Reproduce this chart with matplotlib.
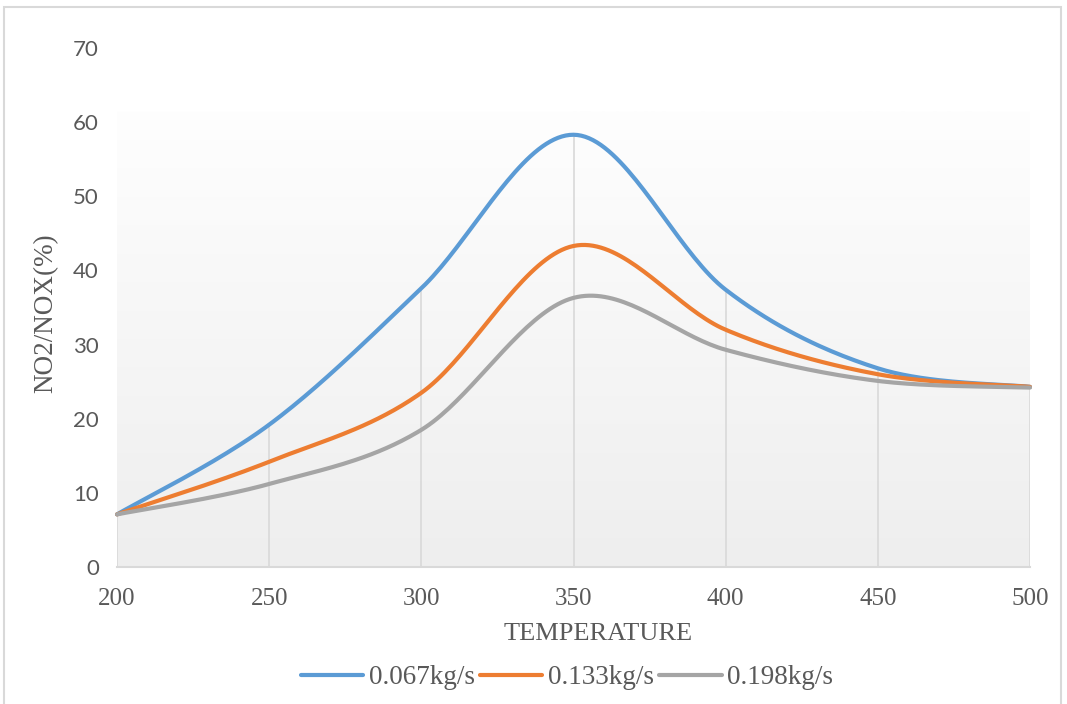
import numpy as np
import matplotlib
matplotlib.use('Agg')
import matplotlib.pyplot as plt
from matplotlib.patches import Rectangle

# data
TEMPS = [200, 250, 300, 350, 400, 450, 500]
FLOW_067 = [7.1, 19.2, 37.6, 58.3, 37.4, 26.8, 24.3]
FLOW_133 = [7.1, 14.2, 23.5, 43.3, 32.0, 26.0, 24.3]
FLOW_198 = [7.1, 11.2, 18.5, 36.3, 29.3, 25.1, 24.2]
LABELS = ['0.067kg/s', '0.133kg/s', '0.198kg/s']
COLORS = ['#5B9BD5', '#ED7D31', '#A5A5A5']

SERIF = 'Liberation Serif'
SANS = 'Lato'


def smooth(xs, ys, n=40):
	# excel style smoothed line: bezier segments through the points
	p = np.column_stack([xs, ys]).astype(float)
	out = []
	for i in range(len(p) - 1):
		p0 = p[i - 1] if i > 0 else p[i]
		p1 = p[i]
		p2 = p[i + 1]
		p3 = p[i + 2] if i + 2 < len(p) else p[i + 1]
		c1 = p1 + (p2 - p0) / 6.0
		c2 = p2 - (p3 - p1) / 6.0
		t = np.linspace(0, 1, n)[:, None]
		seg = ((1 - t) ** 3) * p1 + 3 * ((1 - t) ** 2) * t * c1 + 3 * (1 - t) * t ** 2 * c2 + t ** 3 * p2
		out.append(seg if i == 0 else seg[1:])
	out = np.vstack(out)
	return out[:, 0], out[:, 1]


def main():
	fig = plt.figure(figsize=(10.67, 7.04), dpi=100)
	ax = fig.add_axes([0.1097, 0.1946, 0.8556, 0.7372])

	# chart frame
	fig.patches.append(Rectangle((4 / 1067, -0.01), 1057 / 1067, 1 - 7 / 704 + 0.01,
		transform=fig.transFigure, fill=False, edgecolor='#d9d9d9', lw=1.5))

	# gradient plot area
	grad = np.linspace(0, 1, 256)[:, None]
	ax.imshow(grad, extent=(199.6, 500, 0, 61.4), aspect='auto', origin='upper',
		cmap=matplotlib.colors.LinearSegmentedColormap.from_list('g', ['#fefefe', '#eeeeee']),
		zorder=0)

	# gridlines drawn only under the top curve
	ax.vlines(TEMPS, 0, FLOW_067, colors='#d9d9d9', lw=1.2, zorder=1)

	for ys, lab, col in zip([FLOW_067, FLOW_133, FLOW_198], LABELS, COLORS):
		sx, sy = smooth(TEMPS, ys)
		ax.plot(sx, sy, color=col, lw=3, label=lab, solid_capstyle='round', zorder=3, clip_on=False)

	ax.set_xlim(200, 500)
	ax.set_ylim(0, 70)
	ax.set_xticks(TEMPS)
	ax.set_yticks(range(0, 71, 10))
	for s in ['top', 'right', 'left']:
		ax.spines[s].set_visible(False)
	ax.spines['bottom'].set_color('#d9d9d9')
	ax.spines['bottom'].set_linewidth(1.5)
	ax.spines['bottom'].set_zorder(2)
	ax.tick_params(axis='both', length=0)
	ax.tick_params(axis='x', pad=15, labelsize=18, labelcolor='#595959')
	ax.tick_params(axis='y', pad=13, labelsize=16, labelcolor='#595959')
	for t in ax.get_xticklabels():
		t.set_fontfamily(SERIF)
	for t in ax.get_yticklabels():
		t.set_fontfamily(SANS)
	ax.set_facecolor('none')

	ax.set_xlabel('TEMPERATURE', fontsize=19, family=SERIF, color='#595959')
	ax.xaxis.set_label_coords(0.527, -0.107)
	ax.set_ylabel('NO2/NOX(%)', fontsize=19.5, family=SERIF, color='#595959')
	ax.yaxis.set_label_coords(-0.064, 0.49)

	leg = fig.legend(loc='center', bbox_to_anchor=(567 / 1067, 1 - 678 / 704), ncol=3,
		frameon=False, prop={'family': SERIF, 'size': 19.5}, handlelength=2.3,
		handletextpad=0.2, columnspacing=0.2)
	for t in leg.get_texts():
		t.set_color('#595959')

	fig.savefig('out.png', dpi=100)


if __name__ == "__main__":
	main()
